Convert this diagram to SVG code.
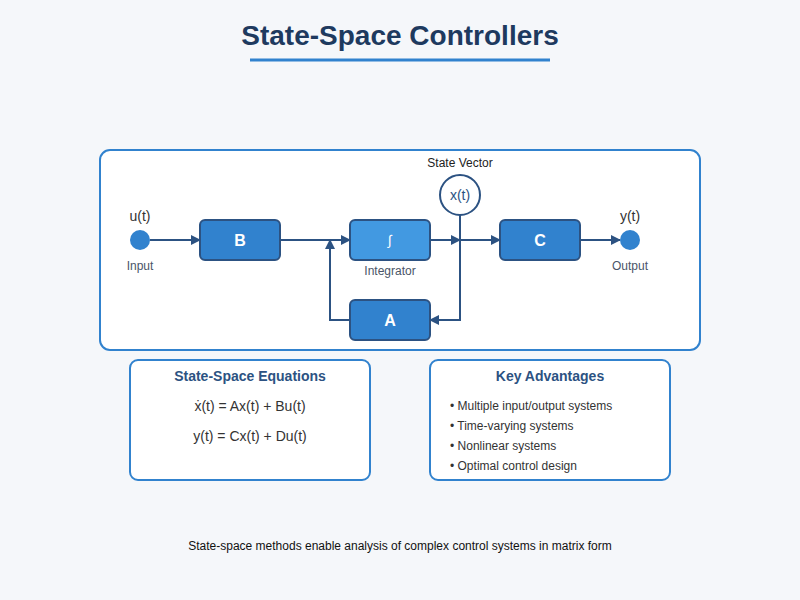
<svg xmlns="http://www.w3.org/2000/svg" width="800" height="600" viewBox="0 0 800 600">
<defs>
<marker id="arr" markerWidth="10" markerHeight="10" refX="9" refY="5" orient="auto" markerUnits="userSpaceOnUse">
<path d="M0,0 L10,5 L0,10 Z" fill="#2c5282"/>
</marker>
<style>
text{font-family:"Liberation Sans",Arial,sans-serif;}
.panel{fill:#fff;stroke:#3182ce;stroke-width:2;}
.blk{fill:#3182ce;stroke:#2c5282;stroke-width:2;}
.blk2{fill:#4299e1;stroke:#2c5282;stroke-width:2;}
.blbl{fill:#fff;font-size:16px;font-weight:bold;text-anchor:middle;}
.conn{fill:none;stroke:#2c5282;stroke-width:2;}
.sig{font-size:14px;fill:#333;text-anchor:middle;}
.sub{font-size:12px;fill:#4a5568;text-anchor:middle;}
.hd{font-size:14px;font-weight:bold;fill:#2c5282;text-anchor:middle;}
.eq{font-size:14px;fill:#333;text-anchor:middle;}
.bul{font-size:12px;fill:#333;}
</style>
</defs>
<rect width="800" height="600" fill="#f5f7fa"/>
<text x="400" y="45" text-anchor="middle" font-size="28" font-weight="bold" fill="#1e3a5f">State-Space Controllers</text>
<line x1="250" y1="60" x2="550" y2="60" stroke="#3182ce" stroke-width="3"/>
<rect class="panel" x="100" y="150" width="600" height="200" rx="10"/>
<g id="connectors">
<line class="conn" x1="150" y1="240" x2="200" y2="240" marker-end="url(#arr)"/>
<line class="conn" x1="280" y1="240" x2="350" y2="240" marker-end="url(#arr)"/>
<polyline class="conn" points="350,320 330,320 330,240" marker-end="url(#arr)"/>
<line class="conn" x1="430" y1="240" x2="460" y2="240" marker-end="url(#arr)"/>
<line class="conn" x1="460" y1="240" x2="500" y2="240" marker-end="url(#arr)"/>
<polyline class="conn" points="460,215 460,320 430,320" marker-end="url(#arr)"/>
<line class="conn" x1="580" y1="240" x2="620" y2="240" marker-end="url(#arr)"/>
</g>
<g id="input">
<circle cx="140" cy="240" r="10" fill="#3182ce"/>
<text class="sig" x="140" y="221">u(t)</text>
<text class="sub" x="140" y="270">Input</text>
</g>
<g id="B">
<rect class="blk" x="200" y="220" width="80" height="40" rx="5"/>
<text class="blbl" x="240" y="246">B</text>
</g>
<g id="integrator">
<rect class="blk2" x="350" y="220" width="80" height="40" rx="5"/>
<text x="390" y="245" text-anchor="middle" style="font-size:14px;font-weight:normal;fill:#fff">∫</text>
<text class="sub" x="390" y="275">Integrator</text>
</g>
<g id="A">
<rect class="blk" x="350" y="300" width="80" height="40" rx="5"/>
<text class="blbl" x="390" y="326">A</text>
</g>
<g id="state">
<text x="460" y="167" text-anchor="middle" font-size="12" fill="#222">State Vector</text>
<circle cx="460" cy="195" r="20" fill="#fff" stroke="#2c5282" stroke-width="2"/>
<text x="460" y="200" text-anchor="middle" font-size="14" fill="#2c5282">x(t)</text>
</g>
<g id="C">
<rect class="blk" x="500" y="220" width="80" height="40" rx="5"/>
<text class="blbl" x="540" y="246">C</text>
</g>
<g id="output">
<circle cx="630" cy="240" r="10" fill="#3182ce"/>
<text class="sig" x="630" y="221">y(t)</text>
<text class="sub" x="630" y="270">Output</text>
</g>
<g id="equations">
<rect class="panel" x="130" y="360" width="240" height="120" rx="8"/>
<text class="hd" x="250" y="381">State-Space Equations</text>
<text class="eq" x="250" y="411">ẋ(t) = Ax(t) + Bu(t)</text>
<text class="eq" x="250" y="441">y(t) = Cx(t) + Du(t)</text>
</g>
<g id="advantages">
<rect class="panel" x="430" y="360" width="240" height="120" rx="8"/>
<text class="hd" x="550" y="381">Key Advantages</text>
<text class="bul" x="450" y="410">• Multiple input/output systems</text>
<text class="bul" x="450" y="430">• Time-varying systems</text>
<text class="bul" x="450" y="450">• Nonlinear systems</text>
<text class="bul" x="450" y="470">• Optimal control design</text>
</g>
<text x="400" y="550" text-anchor="middle" font-size="12" fill="#111">State-space methods enable analysis of complex control systems in matrix form</text>
</svg>
